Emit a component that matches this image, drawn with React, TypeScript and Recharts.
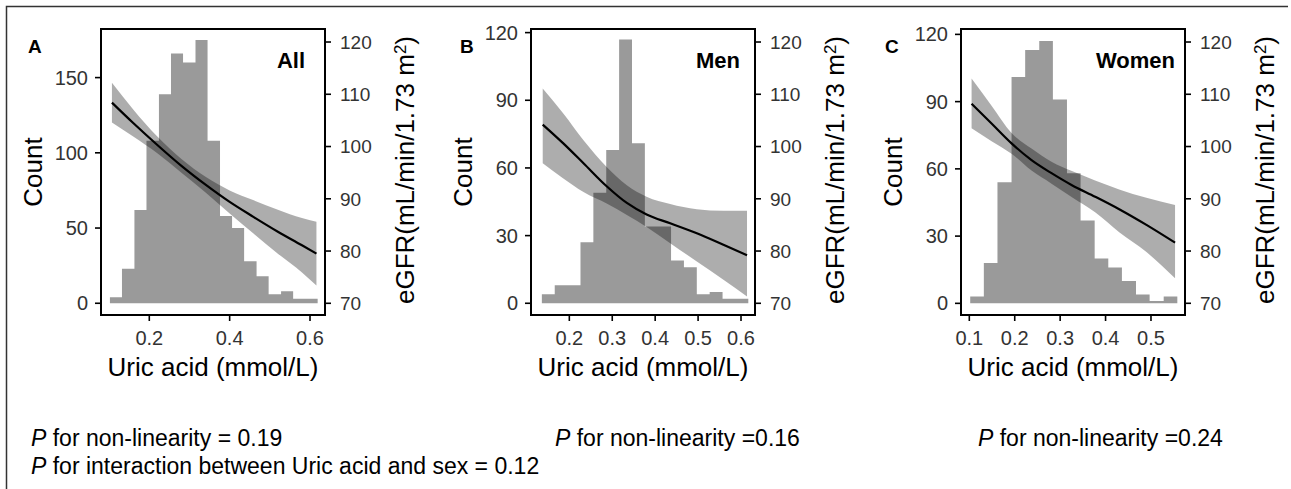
import React from 'react';
import { ComposedChart, Area, Line, XAxis, YAxis } from 'recharts';

const FONT = '"Liberation Sans", Arial, Helvetica, sans-serif';

// Panel A: all participants
const binEdgesAll = [0.102, 0.132, 0.163, 0.193, 0.224, 0.254, 0.284, 0.315, 0.345, 0.376, 0.406, 0.436, 0.467, 0.497, 0.528, 0.558, 0.588, 0.619];
const countsAll = [4, 23, 62, 108, 139, 166, 160, 175, 108, 58, 50, 28, 18, 6, 8, 3, 3];
const fitXAll = [0.107, 0.16, 0.22, 0.28, 0.34, 0.4, 0.46, 0.52, 0.58, 0.616];
const fitAll = [108.4, 104.5, 100.3, 96.3, 92.7, 89.4, 86.5, 83.7, 81.1, 79.5];
const lowerAll = [104.6, 101.9, 98.7, 95.0, 91.2, 87.2, 83.3, 79.5, 75.9, 73.4];
const upperAll = [112.2, 107.1, 101.9, 97.6, 94.2, 91.6, 89.7, 87.9, 86.3, 85.6];

// Panel B: men
const binEdgesMen = [0.136, 0.166, 0.196, 0.226, 0.256, 0.286, 0.316, 0.346, 0.376, 0.407, 0.437, 0.467, 0.497, 0.527, 0.557, 0.587, 0.617];
const countsMen = [4, 8, 8, 27, 49, 68, 117, 71, 34, 34, 19, 16, 4, 5, 2, 2];
const fitXMen = [0.138, 0.186, 0.233, 0.287, 0.334, 0.38, 0.435, 0.497, 0.559, 0.614];
const fitMen = [104.2, 100.6, 96.8, 92.4, 89.2, 87.0, 85.3, 83.4, 81.2, 79.2];
const lowerMen = [96.8, 93.9, 91.3, 89.1, 86.9, 84.6, 81.5, 78.0, 74.5, 71.3];
const upperMen = [111.1, 106.3, 101.2, 96.1, 92.6, 90.4, 89.0, 88.0, 87.7, 87.7];

// Panel C: women
const binEdgesWomen = [0.102, 0.132, 0.162, 0.193, 0.223, 0.254, 0.284, 0.315, 0.345, 0.376, 0.406, 0.436, 0.467, 0.497, 0.528, 0.558];
const countsWomen = [3, 18, 54, 101, 113, 117, 91, 58, 37, 20, 16, 10, 4, 1, 3];
const fitXWomen = [0.105, 0.149, 0.193, 0.237, 0.281, 0.326, 0.377, 0.43, 0.49, 0.553];
const fitWomen = [108.2, 104.4, 100.6, 97.4, 94.9, 92.6, 90.4, 88.0, 85.0, 81.6];
const lowerWomen = [103.5, 101.0, 98.6, 95.4, 92.9, 90.3, 87.4, 83.6, 79.8, 74.8];
const upperWomen = [113.0, 107.8, 102.6, 99.6, 97.1, 95.3, 93.5, 91.8, 90.2, 88.8];

// tick labels
const xTicksAll = [0.2, 0.4, 0.6];
const xTicksMen = [0.2, 0.3, 0.4, 0.5, 0.6];
const xTicksWomen = [0.1, 0.2, 0.3, 0.4, 0.5];
const countTicksAll = [0, 50, 100, 150];
const countTicksSex = [0, 30, 60, 90, 120];
const egfrTicks = [70, 80, 90, 100, 110, 120];

const pTexts = ['= 0.19', '=0.16', '=0.24'];

// rows for the step-area histogram (last edge repeats the last count)
const histRows = (edges: number[], counts: number[]) =>
  edges.map((x, i) => ({ x, count: counts[Math.min(i, counts.length - 1)] }));

const fitRows = (xs: number[], fit: number[], lo: number[], hi: number[]) =>
  xs.map((x, i) => ({ x, fit: fit[i], lo: lo[i], hi: hi[i] }));

const EGFR_DOMAIN: [number, number] = [67.76, 122.49];
const PLOT_TOP = 29;

const tickStyle = { fill: '#333', fontSize: 20, fontFamily: FONT };

function CountLabel() {
  return (
    <text x={33} y={172} dy="0.36em" textAnchor="middle" transform="rotate(-90 33 172)"
      fontSize={26} fontFamily={FONT} fill="#000">Count</text>
  );
}

function UricLabel() {
  return (
    <text x={213} y={376} textAnchor="middle" fontSize={26} fontFamily={FONT} fill="#000">
      Uric acid (mmol/L)
    </text>
  );
}

function EgfrLabel() {
  return (
    <text x={405} y={170} dy="0.36em" textAnchor="middle" transform="rotate(-90 405 170)"
      fontSize={26} fontFamily={FONT} fill="#000">
      eGFR(mL/min/1.73 m<tspan dy="-0.5em" fontSize={17}>2</tspan><tspan dy="0.33em" fontSize={26}>)</tspan>
    </text>
  );
}

interface PanelProps {
  hist: { x: number; count: number }[];
  fit: { x: number; fit: number; lo: number; hi: number }[];
  xDomain: [number, number];
  xTicks: number[];
  countDomain: [number, number];
  countTicks: number[];
}

function Panel({ hist, fit, xDomain, xTicks, countDomain, countTicks }: PanelProps) {
  return (
    <ComposedChart width={430} height={400} margin={{ top: PLOT_TOP, right: 0, bottom: 0, left: 0 }}>
      <XAxis
        type="number"
        dataKey="x"
        domain={xDomain}
        allowDataOverflow
        ticks={xTicks}
        interval={0}
        height={85}
        tickSize={6}
        tickMargin={10}
        tick={tickStyle}
        tickLine={{ stroke: '#000', strokeWidth: 1.6 }}
        axisLine={{ stroke: '#000', strokeWidth: 1.8 }}
        label={UricLabel}
      />
      <YAxis
        yAxisId="count"
        type="number"
        domain={countDomain}
        allowDataOverflow
        ticks={countTicks}
        interval={0}
        width={101}
        tickSize={6}
        tickMargin={7}
        tick={tickStyle}
        tickLine={{ stroke: '#000', strokeWidth: 1.6 }}
        axisLine={{ stroke: '#000', strokeWidth: 1.8 }}
        label={CountLabel}
      />
      <YAxis
        yAxisId="egfr"
        orientation="right"
        type="number"
        domain={EGFR_DOMAIN}
        allowDataOverflow
        ticks={egfrTicks}
        interval={0}
        width={105}
        tickSize={6}
        tickMargin={9}
        tick={{ ...tickStyle, fontSize: 19 }}
        tickLine={{ stroke: '#000', strokeWidth: 1.6 }}
        axisLine={{ stroke: '#000', strokeWidth: 1.8 }}
        label={EgfrLabel}
      />
      <Area
        data={hist}
        yAxisId="count"
        dataKey="count"
        type="stepAfter"
        fill="#9a9a9a"
        fillOpacity={1}
        stroke="none"
        isAnimationActive={false}
      />
      <Area
        data={fit}
        yAxisId="egfr"
        dataKey={(d: any) => [d.lo, d.hi]}
        type="monotone"
        fill="#000"
        fillOpacity={0.32}
        stroke="none"
        isAnimationActive={false}
      />
      <Line
        data={fit}
        yAxisId="egfr"
        dataKey="fit"
        type="monotone"
        stroke="#000"
        strokeWidth={2.2}
        dot={false}
        isAnimationActive={false}
      />
    </ComposedChart>
  );
}

export default function App() {
  const panels: PanelProps[] = [
    {
      hist: histRows(binEdgesAll, countsAll),
      fit: fitRows(fitXAll, fitAll, lowerAll, upperAll),
      xDomain: [0.0798, 0.6373],
      xTicks: xTicksAll,
      countDomain: [-7.8, 182.3],
      countTicks: countTicksAll,
    },
    {
      hist: histRows(binEdgesMen, countsMen),
      fit: fitRows(fitXMen, fitMen, lowerMen, upperMen),
      xDomain: [0.1107, 0.6326],
      xTicks: xTicksMen,
      countDomain: [-5.2, 121.6],
      countTicks: countTicksSex,
    },
    {
      hist: histRows(binEdgesWomen, countsWomen),
      fit: fitRows(fitXWomen, fitWomen, lowerWomen, upperWomen),
      xDomain: [0.0817, 0.5749],
      xTicks: xTicksWomen,
      countDomain: [-5.2, 122.4],
      countTicks: countTicksSex,
    },
  ];
  const letters = ['A', 'B', 'C'];
  const letterX = [28, 460, 885];
  const names = ['All', 'Men', 'Women'];
  const nameRight = [305, 740, 1175];
  const pX = [31, 555, 978];

  return (
    <div style={{ position: 'absolute', left: 0, top: 0, width: 1291, height: 489, background: '#fff', fontFamily: FONT, overflow: 'hidden' }}>
      {panels.map((p, i) => (
        <div key={i} style={{ position: 'absolute', left: i * 430, top: 0 }}>
          <Panel {...p} />
        </div>
      ))}
      <svg width={1291} height={489} style={{ position: 'absolute', left: 0, top: 0, pointerEvents: 'none', zIndex: 2 }}>
        <path d="M6.5 489 V6.5 H1288" fill="none" stroke="#333" strokeWidth={1.5} />
        {/* box around each panel's plotting area */}
        {panels.map((_, i) => (
          <rect key={`box${i}`} x={101 + i * 430} y={PLOT_TOP} width={224} height={286}
            fill="none" stroke="#000" strokeWidth={2} />
        ))}
        {letters.map((l, i) => (
          <text key={l} x={letterX[i]} y={53} fontSize={19} fontWeight="bold" fontFamily={FONT} fill="#000">{l}</text>
        ))}
        {names.map((n, i) => (
          <text key={n} x={nameRight[i]} y={68} textAnchor="end" fontSize={22} fontWeight="bold" fontFamily={FONT} fill="#000">{n}</text>
        ))}
        {pTexts.map((t, i) => (
          <text key={t} x={pX[i]} y={445.5} fontSize={23} fontFamily={FONT} fill="#000">
            <tspan fontStyle="italic">P</tspan> for non-linearity {t}
          </text>
        ))}
        <text x={pX[0]} y={474} fontSize={23} fontFamily={FONT} fill="#000">
          <tspan fontStyle="italic">P</tspan> for interaction between Uric acid and sex = 0.12
        </text>
      </svg>
    </div>
  );
}
